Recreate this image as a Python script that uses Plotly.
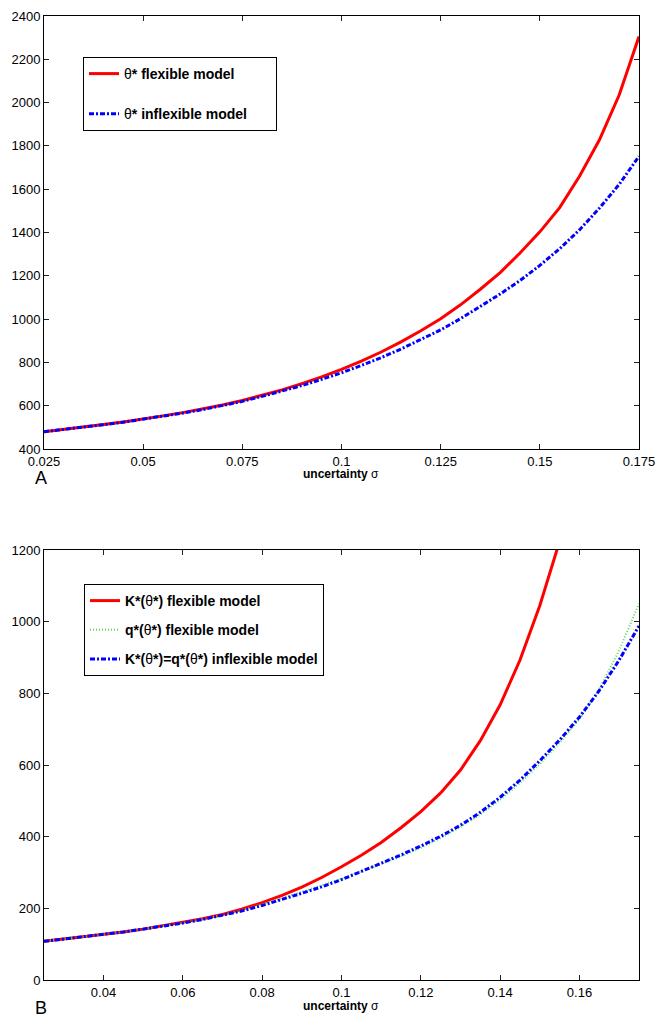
import plotly.graph_objects as go

# Uncertainty grid (sigma) shared by all curves
sigma = [0.025, 0.03, 0.035, 0.04, 0.045, 0.05, 0.055, 0.06, 0.065, 0.07, 0.075,
         0.08, 0.085, 0.09, 0.095, 0.1, 0.105, 0.11, 0.115, 0.12, 0.125,
         0.13, 0.135, 0.14, 0.145, 0.15, 0.155, 0.16, 0.165, 0.17, 0.175]

# Panel A: optimal trigger theta*
theta_flex = [480, 490, 501, 513, 525, 538, 553, 568, 585, 603, 624,
              647, 673, 702, 733, 768, 806, 848, 895, 946, 1002,
              1066, 1138, 1215, 1305, 1403, 1515, 1660, 1827, 2035, 2305]
theta_inflex = [480, 490, 500, 512, 524, 537, 551, 566, 582, 600, 620,
                643, 667, 693, 722, 752, 786, 822, 862, 905, 950,
                1002, 1058, 1116, 1178, 1248, 1325, 1412, 1512, 1622, 1752]

# Panel B: capacity K* and output q* at theta* (flexible K* leaves the axis after 0.155)
sigma_k_flex = sigma[:27]
k_flex = [108, 114, 120, 127, 134, 142, 151, 160, 171, 183, 198,
          216, 236, 259, 286, 316, 348, 384, 425, 470, 522,
          586, 668, 768, 893, 1045, 1225]
k_inflex = [108, 114, 120, 127, 134, 142, 150, 159, 169, 180, 193,
            208, 224, 242, 260, 280, 303, 325, 349, 374, 401,
            432, 468, 510, 558, 612, 670, 734, 808, 893, 988]
q_flex = [108, 114, 120, 127, 134, 142, 150, 159, 170, 181, 195,
          211, 228, 246, 264, 283, 303, 323, 345, 369, 396,
          427, 462, 503, 550, 603, 662, 728, 812, 920, 1050]

xticks_a = [0.025, 0.05, 0.075, 0.1, 0.125, 0.15, 0.175]
xticktext_a = ["0.025", "0.05", "0.075", "0.1", "0.125", "0.15", "0.175"]
xticks_b = [0.04, 0.06, 0.08, 0.1, 0.12, 0.14, 0.16]
xticktext_b = ["0.04", "0.06", "0.08", "0.1", "0.12", "0.14", "0.16"]

W, H = 657, 1017
FONT = "Liberation Sans, Arial, Helvetica, sans-serif"
RED = "#ff0000"
BLUE = "#0000ff"
GREEN = "#5cd85c"
BLUE_DASH = "5px,2px,2px,2px"
PAD = "&nbsp;" * 6

fig = go.Figure()

fig.add_trace(go.Scatter(
    x=sigma, y=theta_flex, mode="lines", name="θ<b>* flexible model</b>",
    line=dict(color=RED, width=3),
    xaxis="x", yaxis="y", legend="legend", legendgroup="a1"))
fig.add_trace(go.Scatter(
    x=sigma, y=theta_inflex, mode="lines", name="θ<b>* inflexible model</b>" + PAD,
    line=dict(color=BLUE, width=3, dash=BLUE_DASH),
    xaxis="x", yaxis="y", legend="legend", legendgroup="a2"))

fig.add_trace(go.Scatter(
    x=sigma_k_flex, y=k_flex, mode="lines", name="<b>K*(</b>θ<b>*) flexible model</b>",
    line=dict(color=RED, width=3),
    xaxis="x2", yaxis="y2", legend="legend2", legendgroup="b1"))
fig.add_trace(go.Scatter(
    x=sigma, y=q_flex, mode="lines", name="<b>q*(</b>θ<b>*) flexible model</b>",
    line=dict(color=GREEN, width=2, dash="1px,2px"),
    xaxis="x2", yaxis="y2", legend="legend2", legendgroup="b2"))
fig.add_trace(go.Scatter(
    x=sigma, y=k_inflex, mode="lines",
    name="<b>K*(</b>θ<b>*)=q*(</b>θ<b>*) inflexible model</b>",
    line=dict(color=BLUE, width=3, dash=BLUE_DASH),
    xaxis="x2", yaxis="y2", legend="legend2", legendgroup="b3"))

x_dom = [44 / W, 639 / W]
axis_common = dict(
    showline=True, linecolor="black", linewidth=1, mirror="ticks",
    ticks="inside", ticklen=5, tickcolor="#222", tickwidth=1,
    showgrid=False, zeroline=False, automargin=False,
    tickfont=dict(family=FONT, size=13, color="black"),
)

legend_common = dict(
    bgcolor="white", bordercolor="black", borderwidth=1,
    font=dict(family=FONT, size=14, color="black"),
    xanchor="left", yanchor="top", traceorder="grouped",
)

fig.update_layout(
    width=W, height=H,
    margin=dict(l=0, r=0, t=0, b=0, autoexpand=False),
    paper_bgcolor="white", plot_bgcolor="white",
    font=dict(family=FONT, color="black"),
    xaxis=dict(domain=x_dom, anchor="y", range=[0.025, 0.175],
               tickvals=xticks_a, ticktext=xticktext_a, **axis_common),
    yaxis=dict(domain=[1 - 449 / H, 1 - 16 / H], anchor="x", range=[400, 2400],
               tickvals=list(range(400, 2401, 200)), **axis_common),
    xaxis2=dict(domain=x_dom, anchor="y2", range=[0.025, 0.175],
                tickvals=xticks_b, ticktext=xticktext_b, **axis_common),
    yaxis2=dict(domain=[1 - 980 / H, 1 - 550 / H], anchor="x2", range=[0, 1200],
                tickvals=list(range(0, 1201, 200)), **axis_common),
    legend=dict(x=83 / W, y=1 - 57 / H, tracegroupgap=19, **legend_common),
    legend2=dict(x=84 / W, y=1 - 584 / H, tracegroupgap=8, **legend_common),
    showlegend=True,
)

# Axis titles and panel letters
for ypix in (474, 1006):
    fig.add_annotation(text="<b>uncertainty</b> σ", xref="paper", yref="paper",
                       x=341 / W, y=1 - ypix / H, xanchor="center", yanchor="middle",
                       showarrow=False, font=dict(family=FONT, size=12, color="black"))
for letter, ypix in (("A", 478), ("B", 1008)):
    fig.add_annotation(text=letter, xref="paper", yref="paper",
                       x=41 / W, y=1 - ypix / H, xanchor="center", yanchor="middle",
                       showarrow=False, font=dict(family=FONT, size=18, color="black"))

fig.write_html("out.html")
